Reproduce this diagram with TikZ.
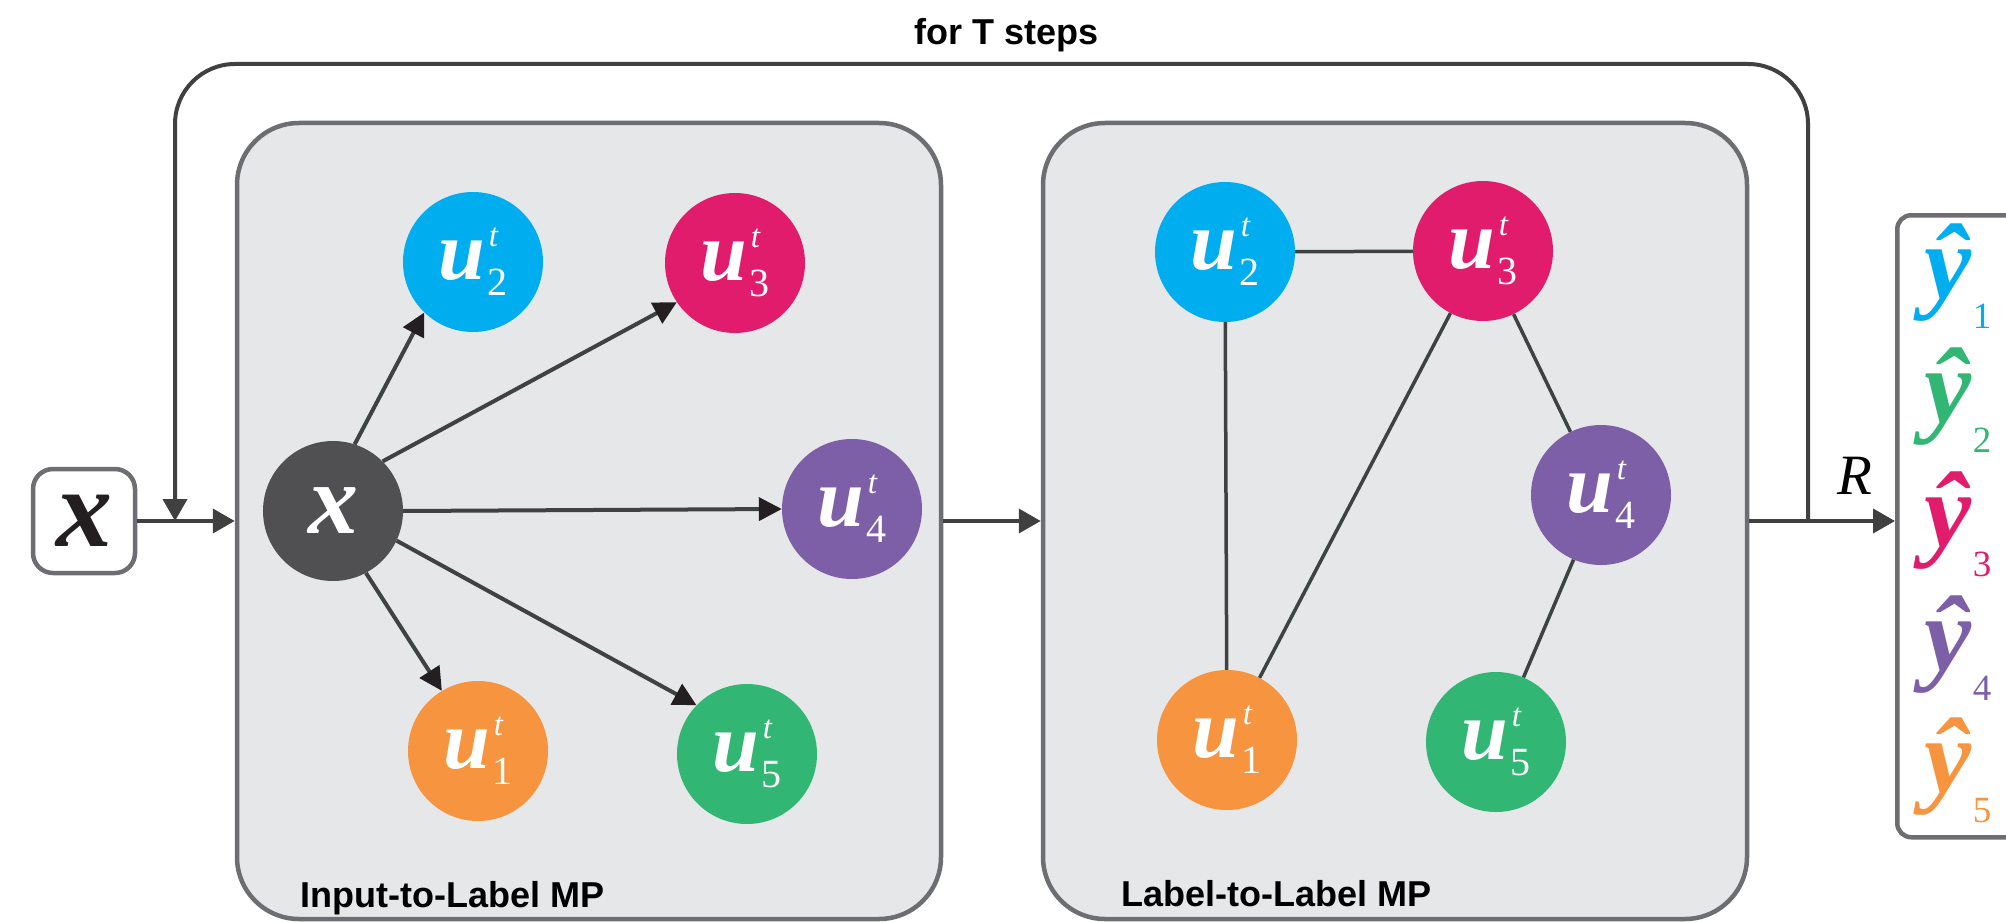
\documentclass[tikz,border=0pt]{standalone}
\usepackage{fontspec}
\newfontfamily\lsans{Liberation Sans}
\newfontfamily\tms{Liberation Serif}
\usetikzlibrary{arrows.meta,calc}
\definecolor{cyanc}{HTML}{00AEEF}
\definecolor{magc}{HTML}{E21C6C}
\definecolor{purc}{HTML}{7D5FA8}
\definecolor{orac}{HTML}{F7943F}
\definecolor{grec}{HTML}{32B673}
\definecolor{darkc}{HTML}{505052}
\definecolor{pgray}{HTML}{6D6E71}
\definecolor{pfill}{HTML}{E6E7E8}
\definecolor{lcol}{HTML}{404041}
\definecolor{gcol}{HTML}{3D4242}
\definecolor{headc}{HTML}{231F20}
\newcommand{\ulab}[1]{{\tms\bfseries\itshape\fontsize{84}{84}\selectfont u}\kern3pt\rlap{\kern1pt\raisebox{33pt}{\tms\itshape\fontsize{33}{33}\selectfont t}}\raisebox{-16pt}{\tms\fontsize{40}{40}\selectfont #1}}
\newcommand{\yhat}[1]{{\tms\bfseries\itshape\fontsize{106}{106}\selectfont\^y}\kern1pt\raisebox{-30pt}[0pt][0pt]{\tms\fontsize{37}{37}\selectfont #1}}
\begin{document}
\begin{tikzpicture}[x=1pt,y=-1pt,
  panel/.style={draw=pgray, line width=4.5pt, fill=pfill, rounded corners=62pt, inner sep=0pt},
  circ/.style={circle, minimum size=140pt, inner sep=0pt, text=white},
  conn/.style={draw=lcol, line width=4pt, -{Triangle[length=22pt,width=24pt]}},
  garr/.style={draw=gcol, line width=4pt, -{Triangle[length=23pt,width=23pt,color=headc]}},
  gedge/.style={draw=gcol, line width=3.5pt},
  lbl/.style={font=\lsans\bfseries\fontsize{36}{36}\selectfont, anchor=base west, inner sep=0pt, text=black},
  boxs/.style={draw=pgray, line width=4.5pt, fill=white, inner sep=0pt},
  ylab/.style={anchor=base, inner sep=0pt}]
\useasboundingbox (0,0) rectangle (2006,923);

% loop
\coordinate (split) at (1808,521);
\coordinate (merge) at (175,521);
\draw[draw=lcol, line width=4pt, rounded corners=60pt, -{Triangle[length=22pt,width=24pt]}]
  (split) -- (1808,64) -- (175,64) -- (merge);
\node[font=\lsans\bfseries\fontsize{36}{36}\selectfont, anchor=base, inner sep=0pt] (steps) at (1007,45) {for T steps};

% panels
\node[panel, minimum width=704pt, minimum height=796pt] (p1) at (589,521) {};
\node[panel, minimum width=704pt, minimum height=796pt] (p2) at (1395,521) {};
\node[lbl] (l1) at (300,907) {Input-to-Label MP};
\node[lbl] (l2) at (1121,906) {Label-to-Label MP};

% input box
\node[boxs, rounded corners=20pt, minimum width=102pt, minimum height=104pt, text=headc] (xin) at (84,521)
  {\tms\bfseries\itshape\fontsize{112}{112}\selectfont x};

% output box
\node[boxs, rounded corners=14pt, minimum width=150pt, minimum height=622pt, anchor=north west] (out) at (1895,213) {};
\node[ylab, text=cyanc] (y1) at (1958,298) {\yhat{1}};
\node[ylab, text=grec]  (y2) at (1958,422) {\yhat{2}};
\node[ylab, text=magc]  (y3) at (1958,546) {\yhat{3}};
\node[ylab, text=purc]  (y4) at (1958,670) {\yhat{4}};
\node[ylab, text=orac]  (y5) at (1958,792) {\yhat{5}};

% panel 1 nodes
\node[circ, fill=darkc] (x) at (333,511) {\tms\bfseries\itshape\fontsize{100}{100}\selectfont x};
\node[circ, fill=cyanc] (a2) at (473,262) {\ulab{2}};
\node[circ, fill=magc]  (a3) at (735,263) {\ulab{3}};
\node[circ, fill=purc]  (a4) at (852,509) {\ulab{4}};
\node[circ, fill=orac]  (a1) at (478,751) {\ulab{1}};
\node[circ, fill=grec]  (a5) at (747,754) {\ulab{5}};

\draw[garr] (x.72) -- (a2.226);
\draw[garr] (x.45) -- (a3.214);
\draw[garr] (x.east) -- (a4.west);
\draw[garr] (x.298) -- (a1.121);
\draw[garr] (x.335) -- (a5.136);

% panel 2 nodes
\node[circ, fill=cyanc] (b2) at (1225,252) {\ulab{2}};
\node[circ, fill=magc]  (b3) at (1483,251) {\ulab{3}};
\node[circ, fill=purc]  (b4) at (1601,495) {\ulab{4}};
\node[circ, fill=orac]  (b1) at (1227,740) {\ulab{1}};
\node[circ, fill=grec]  (b5) at (1496,742) {\ulab{5}};

\draw[gedge] (b2) -- (b3);
\draw[gedge] (b2) -- (b1);
\draw[gedge] (b3) -- (b1);
\draw[gedge] (b3) -- (b4);
\draw[gedge] (b4) -- (b5);

% main connectors
\draw[conn] (xin.east) -- (xin.east -| p1.west);
\draw[conn] (p1.east) -- (p2.west);
\draw[conn] (p2.east) -- (p2.east -| out.west);
\node[font=\tms\itshape\fontsize{57}{57}\selectfont, inner sep=0pt] (R) at (1855,476) {R};
\end{tikzpicture}
\end{document}
